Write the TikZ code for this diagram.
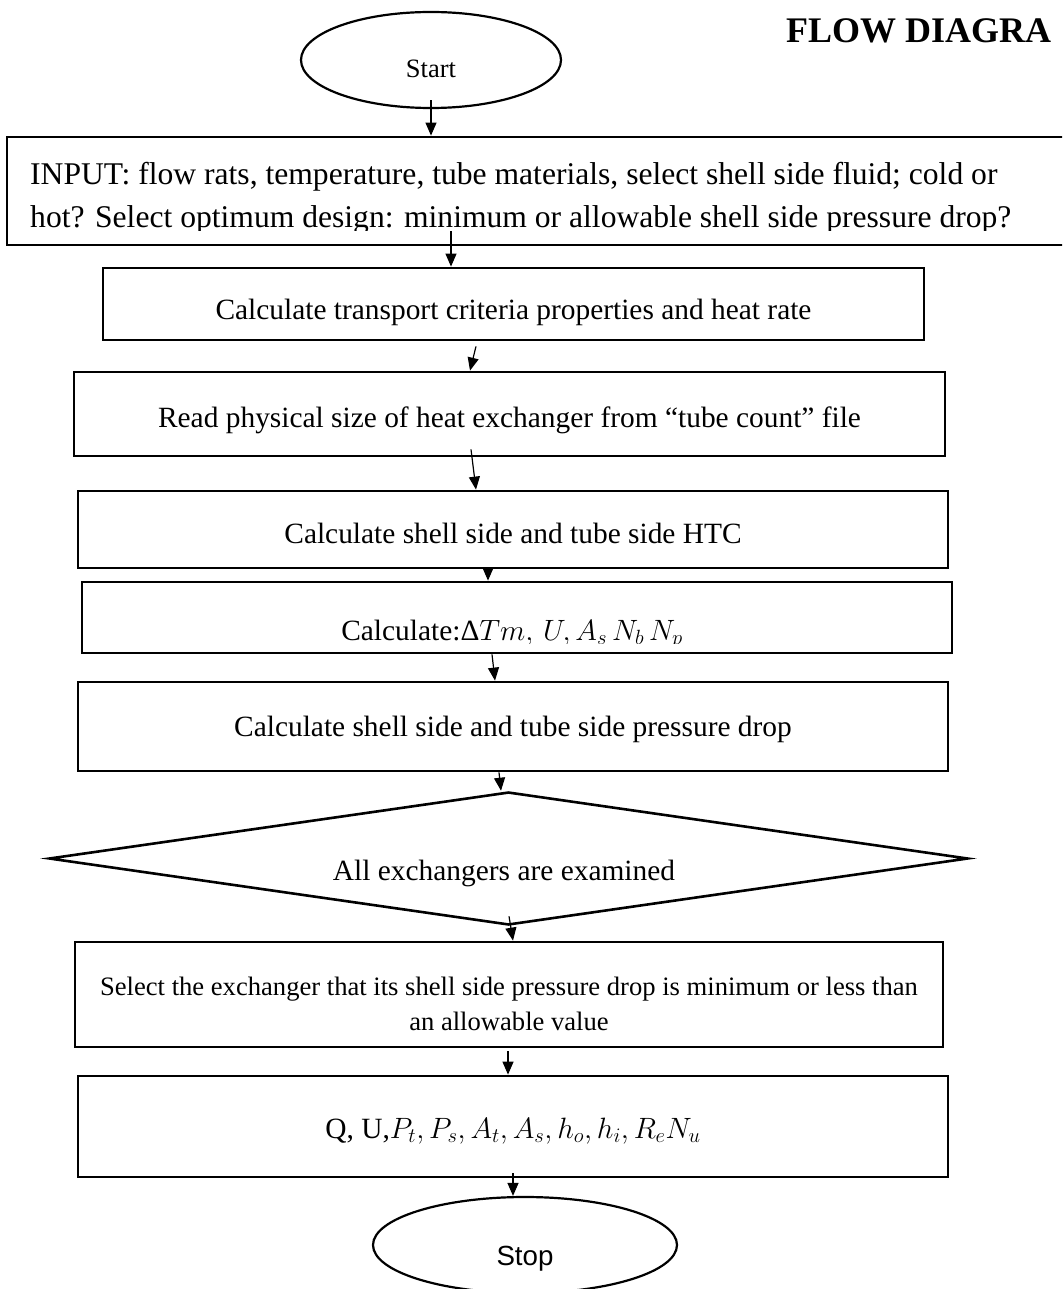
\RequirePackage{fix-cm}
\documentclass[tikz,border=0pt]{standalone}
\usepackage{fontspec}
\setmainfont{Liberation Serif}
\setsansfont{Liberation Sans}
\usetikzlibrary{arrows.meta,shapes.geometric}

\newcommand\fs[2]{\fontsize{#1}{#2}\selectfont}
% zero-size label: baseline #2 below the node centre, centre moved right by half of #1
\newcommand\placed[3]{\raisebox{-#2}[0pt][0pt]{\makebox[0pt]{\hspace*{#1}#3}}}

\begin{document}
\begin{tikzpicture}[x=1pt,y=-1pt,
  box/.style={draw, rectangle, line width=2.8pt, inner sep=0pt},
  term/.style={draw, ellipse, line width=2.2pt, inner sep=0pt},
  decide/.style={draw, diamond, line width=2.6pt, inner sep=0pt},
  flow/.style={-{Triangle[length=13pt,width=11pt]}, line width=1.2pt},
  body/.style={font=\rmfamily\fs{29.4}{34}}]
\useasboundingbox (0,0) rectangle (1062,1289);
\clip (0,0) rectangle (1062,1289);
\fill[white] (0,0) rectangle (1062,1289);

% heading
\node[anchor=base west, inner sep=0pt, font=\rmfamily\bfseries\fs{36}{40}] (title) at (786,43) {FLOW DIAGRA};

% terminals
\node[term, minimum width=260pt, minimum height=96pt, font=\rmfamily\fs{26.5}{30}] (st) at (431,60)
  {\placed{0pt}{18pt}{Start}};
\node[term, minimum width=304pt, minimum height=96pt, font=\sffamily\fs{27.7}{32}] (sp) at (525,1245)
  {\placed{0pt}{20pt}{Stop}};

% input box (text is cut off by the box's inner margin)
\node[box, minimum width=1068pt, minimum height=108pt] (b1) at (541,191) {};
\begin{scope}
  \clip (10,140) rectangle (1062,231);
  \node[anchor=base west, inner sep=0pt, font=\rmfamily\fs{31.6}{43}] (t1) at (30,185)
    {\begin{tabular}[t]{@{}l@{}}INPUT: flow rats, temperature, tube materials, select shell side fluid; cold or\\
     hot? Select optimum design: minimum or allowable shell side pressure drop?\end{tabular}};
\end{scope}

% process steps
\node[box, body, minimum width=821pt, minimum height=72pt] (b2) at (513.5,304)
  {\placed{0pt}{15pt}{Calculate transport criteria properties and heat rate}};
\node[box, body, minimum width=871pt, minimum height=84pt] (b3) at (509.5,414)
  {\placed{0pt}{13pt}{Read physical size of heat exchanger from “tube count” file}};
\node[box, body, minimum width=870pt, minimum height=77pt] (b4) at (513,529.5)
  {\placed{0pt}{13.5pt}{Calculate shell side and tube side HTC}};
\node[box, minimum width=870pt, minimum height=71pt] (b5) at (517,617.5) {};
\begin{scope}
  \clip (84,584) rectangle (951,643);
  \node[anchor=base, inner sep=0pt, body] (t5) at (512,640)
    {Calculate:Δ$Tm,\,U,A_s\,N_b\,N_p$};
\end{scope}
\node[box, body, minimum width=870pt, minimum height=89pt] (b6) at (513,726.5)
  {\placed{0pt}{9.5pt}{Calculate shell side and tube side pressure drop}};

% decision
\node[decide, body, minimum width=919pt, minimum height=133pt] (dia) at (508.5,858.5)
  {\placed{-9pt}{21.5pt}{All exchangers are examined}};

% selection and results
\node[box, minimum width=868pt, minimum height=105pt, font=\rmfamily\fs{26.6}{35}] (b7) at (509,994.5)
  {\placed{0pt}{35.5pt}{\begin{tabular}[b]{@{}c@{}}Select the exchanger that its shell side pressure drop is minimum or less than\\
   an allowable value\end{tabular}}};
\node[box, body, minimum width=870pt, minimum height=101pt] (b8) at (513,1126.5)
  {\placed{0pt}{11.5pt}{Q, U,$P_t, P_s, A_t, A_s, h_o, h_i, R_e N_u$}};

% connectors
\draw[flow] ([yshift=9pt]st.south) -- (st.south |- b1.north);
\draw[flow] ([xshift=-90pt,yshift=15pt]b1.south) -- ([xshift=-62.5pt]b2.north);
\draw[flow] ([xshift=-37.5pt,yshift=-5pt]b2.south) -- ([xshift=-39.5pt]b3.north);
\draw[flow] ([xshift=-38.5pt,yshift=8pt]b3.south) -- ([xshift=-37pt]b4.north);
\draw[flow] ([xshift=-25pt]b4.south) -- ([xshift=-29pt]b5.north);
\draw[flow] ([xshift=-25pt]b5.south) -- ([xshift=-18pt]b6.north);
\draw[flow] ([xshift=-14pt]b6.south) -- ([xshift=-7.5pt]dia.north);
\draw[flow] ([xshift=0.5pt,yshift=10pt]dia.south) -- ([xshift=4pt]b7.north);
\draw[flow] ([xshift=-1pt,yshift=-3pt]b7.south) -- ([xshift=-5pt]b8.north);
\draw[flow] ([yshift=5pt]b8.south) -- (b8.south |- sp.north);
\end{tikzpicture}
\end{document}
